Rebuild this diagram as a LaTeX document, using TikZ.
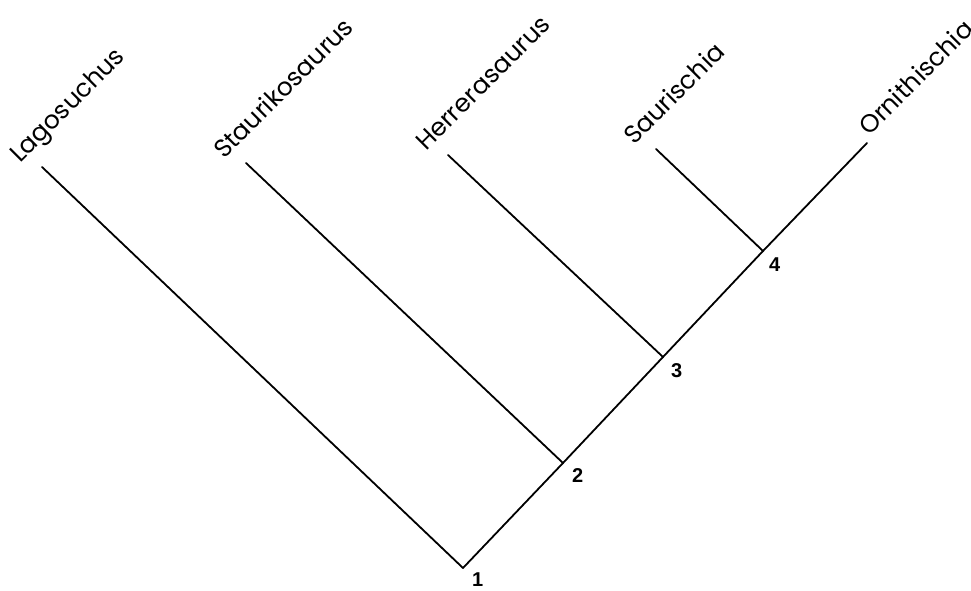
\documentclass[tikz,border=0pt]{standalone}
\usepackage{fontspec}
\setmainfont{Poppins}
\newfontfamily\numfont{Liberation Sans}
\tikzset{
  branch/.style={line width=1.8pt, line cap=round},
  taxon/.style={rotate=45, anchor=base west, inner sep=0pt, font=\fontsize{25}{29}\selectfont},
  num/.style={anchor=north west, inner sep=0pt, font=\numfont\bfseries\fontsize{20}{23}\selectfont},
}

\begin{document}
\begin{tikzpicture}[x=1pt, y=1pt]
\useasboundingbox (0,0) rectangle (971,591);
% branch points
\path (463, 23) coordinate (n1);
\path (563,128) coordinate (n2);
\path (663,234) coordinate (n3);
\path (763,340) coordinate (n4);
% tips
\path ( 42,424) coordinate (lago);
\path (246,428) coordinate (stau);
\path (448,436) coordinate (herr);
\path (656,442) coordinate (saur);
\path (867,448) coordinate (orni);

\draw[branch] (n1) -- (n2) -- (n3) -- (n4) -- (orni);
\draw[branch] (n1) -- (lago);
\draw[branch] (n2) -- (stau);
\draw[branch] (n3) -- (herr);
\draw[branch] (n4) -- (saur);

\node[taxon] (lagolbl) at ([shift={(-22,3)}]lago) {Lagosuchus};
\node[taxon] (staulbl) at ([shift={(-22,3)}]stau) {Staurikosaurus};
\node[taxon] (herrlbl) at ([shift={(-22,3)}]herr) {Herrerasaurus};
\node[taxon] (saurlbl) at ([shift={(-22,3)}]saur) {Saurischia};
\node[taxon] (ornilbl) at ([shift={(2,6)}]orni) {Ornithischia};

\node[num] (lbl1) at ([shift={(9,-5)}]n1) {1};
\node[num] (lbl2) at ([shift={(9,-5)}]n2) {2};
\node[num] (lbl3) at ([shift={(8,-6)}]n3) {3};
\node[num] (lbl4) at ([shift={(6,-7)}]n4) {4};
\end{tikzpicture}
\end{document}
